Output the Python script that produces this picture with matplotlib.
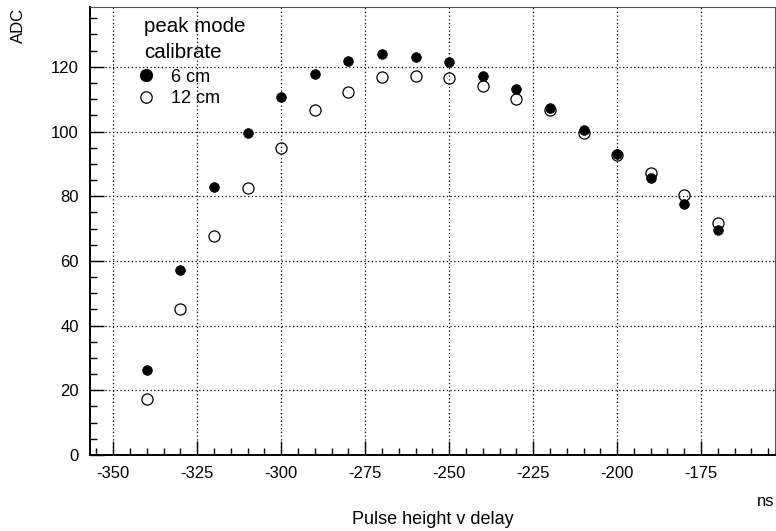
import numpy as np
import matplotlib
matplotlib.use('Agg')
import matplotlib.pyplot as plt
from matplotlib.ticker import MultipleLocator
from matplotlib.lines import Line2D

plt.rcParams['font.family'] = ['Liberation Sans', 'DejaVu Sans']
plt.rcParams['axes.unicode_minus'] = False

delay = [-340, -330, -320, -310, -300, -290, -280, -270, -260,
         -250, -240, -230, -220, -210, -200, -190, -180, -170]
adc_6cm = [26.3, 57.2, 82.9, 99.4, 110.6, 117.9, 121.8, 123.9, 123.1,
           121.4, 117.3, 113.2, 107.4, 100.4, 93.0, 85.6, 77.6, 69.5]
adc_12cm = [17.2, 45.1, 67.7, 82.4, 94.8, 106.6, 112.3, 116.9, 117.3,
            116.5, 114.0, 110.2, 106.6, 99.6, 92.8, 87.2, 80.3, 71.7]

fig = plt.figure(figsize=(7.76, 5.31), dpi=100)
ax = fig.add_axes([90/776, 76/531, 685/776, 448/531])

ax.plot(delay, adc_12cm, 'o', ms=8, mfc='none', mec='black', mew=0.9, zorder=3)
ax.plot(delay, adc_6cm, 'o', ms=7, mfc='black', mec='black', mew=0.5, zorder=4)

ax.set_xlim(-356.9, -153)
ax.set_ylim(0, 138.5)

ax.xaxis.set_major_locator(MultipleLocator(25))
ax.xaxis.set_minor_locator(MultipleLocator(5))
ax.yaxis.set_major_locator(MultipleLocator(20))
ax.yaxis.set_minor_locator(MultipleLocator(5))
ax.tick_params(which='both', direction='in', top=False, right=False,
               labelsize=12, width=1, color='black')
ax.tick_params(which='major', length=10, pad=8)
ax.tick_params(which='minor', length=5)
ax.grid(True, which='major', color='black', linestyle=(0, (1, 2)), linewidth=0.9)

for side in ['top', 'right']:
    ax.spines[side].set_linewidth(0.8)
    ax.spines[side].set_color('#555555')
for side in ['left', 'bottom']:
    ax.spines[side].set_linewidth(1.4)

fig.text(18/776, 1 - 8/531, 'ADC', rotation=90, ha='center', va='top', fontsize=12)
fig.text(774/776, 1 - 502/531, 'ns', ha='right', va='center', fontsize=12)
fig.text(433/776, 1 - 519/531, 'Pulse height v delay', ha='center', va='center', fontsize=13)

# legend header
fig.text(144/776, 1 - 32/531, 'peak mode', ha='left', va='baseline', fontsize=14.8)
fig.text(144/776, 1 - 58/531, 'calibrate', ha='left', va='baseline', fontsize=14.8)

handles = [Line2D([], [], ls='none', marker='o', ms=8.5, mfc='black', mec='black'),
           Line2D([], [], ls='none', marker='o', ms=8.2, mfc='none', mec='black', mew=0.9)]
leg = fig.legend(handles, ['6 cm', '12 cm'], loc='center left',
                 bbox_to_anchor=(137/776, 1 - 88/531),
                 frameon=False, fontsize=13, handletextpad=0.89,
                 handlelength=1.0, labelspacing=0.25, borderpad=0, borderaxespad=0)

fig.savefig('out.png', dpi=100)
